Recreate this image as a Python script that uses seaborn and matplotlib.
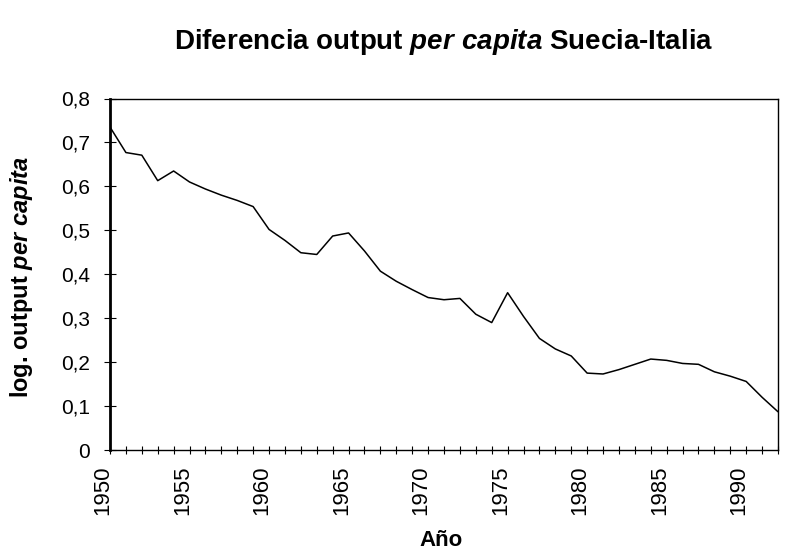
import numpy as np
import pandas as pd
import matplotlib
matplotlib.use("Agg")
import matplotlib.pyplot as plt
import matplotlib.transforms as mtransforms
import seaborn as sns

# Values
years = list(range(1950, 1993))
diff_log_output = [
    0.735, 0.677, 0.671, 0.613, 0.635, 0.610, 0.594, 0.580, 0.568, 0.554,
    0.502, 0.477, 0.449, 0.445, 0.487, 0.494, 0.453, 0.407, 0.384, 0.365,
    0.347, 0.342, 0.345, 0.309, 0.290, 0.358, 0.304, 0.254, 0.230, 0.214,
    0.175, 0.173, 0.183, 0.195, 0.207, 0.204, 0.197, 0.195, 0.178, 0.168,
    0.156, 0.120, 0.087,
]
y_ticks = [0, 0.1, 0.2, 0.3, 0.4, 0.5, 0.6, 0.7, 0.8]
y_tick_labels = ["0", "0,1", "0,2", "0,3", "0,4", "0,5", "0,6", "0,7", "0,8"]
x_major = [1950, 1955, 1960, 1965, 1970, 1975, 1980, 1985, 1990]

df = pd.DataFrame({"Año": years, "diff": diff_log_output})

sns.set_style("ticks")
plt.rcParams["font.family"] = ["Liberation Sans", "DejaVu Sans"]
plt.rcParams["mathtext.fontset"] = "custom"
plt.rcParams["mathtext.it"] = "Liberation Sans:italic:bold"
plt.rcParams["mathtext.rm"] = "Liberation Sans:bold"
for key in ["text.color", "axes.labelcolor", "xtick.color", "ytick.color", "axes.edgecolor"]:
    plt.rcParams[key] = "black"

fig = plt.figure(figsize=(7.92, 5.57), dpi=100)
ax = fig.add_axes([110 / 792, 1 - 450 / 557, 668 / 792, 351.5 / 557])

sns.lineplot(data=df, x="Año", y="diff", color="black", linewidth=1.1, ax=ax)

ax.set_xlim(1950, 1992)
ax.set_ylim(0, 0.8)
ax.set_yticks(y_ticks)
ax.set_yticklabels(y_tick_labels, fontsize=15)
ax.set_xticks(x_major)
ax.set_xticklabels([str(y) for y in x_major], rotation=90, fontsize=16)
ax.set_xticks(years, minor=True)
ax.tick_params(axis="x", which="both", direction="inout", length=6, width=0.8, pad=8)
ax.tick_params(axis="y", which="both", direction="inout", length=9, width=0.8, pad=10)

# shift rotated year labels a little to the left, as in the original
shift = mtransforms.ScaledTranslation(-7 / 100, 0, fig.dpi_scale_trans)
for lab in ax.get_xticklabels():
    lab.set_transform(lab.get_transform() + shift)

for side in ["top", "right", "bottom", "left"]:
    ax.spines[side].set_visible(True)
    ax.spines[side].set_color("black")
    ax.spines[side].set_linewidth(1.0)
ax.spines["left"].set_linewidth(2.0)

ax.set_xlabel("")
ax.set_ylabel("")

fig.text(443.5 / 792, 1 - 42 / 557, r"Diferencia output $\mathit{per\ capita}$ Suecia-Italia",
         ha="center", va="center", fontsize=20, fontweight="bold")
fig.text(22 / 792, 1 - 277 / 557, r"log. output $\mathit{per\ capita}$",
         ha="center", va="center", rotation=90, fontsize=17, fontweight="bold")
fig.text(441 / 792, 1 - 540 / 557, "Año", ha="center", va="center",
         fontsize=16, fontweight="bold")

fig.savefig("out.png", dpi=100, facecolor="white")
